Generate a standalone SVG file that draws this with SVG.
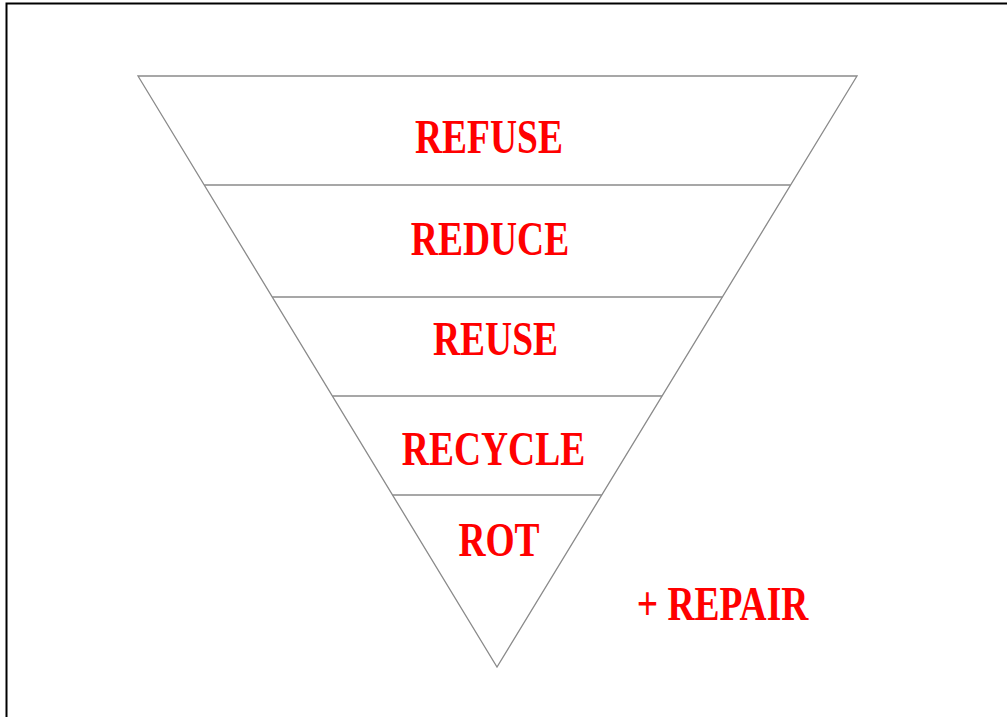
<svg xmlns="http://www.w3.org/2000/svg" width="1007" height="717" viewBox="0 0 1007 717">
<style>
.ln{stroke:#8a8a8a;stroke-width:1.3;fill:none}
.lb{font-family:"Liberation Serif","Times New Roman",serif;font-weight:bold;font-size:37.5px;fill:#ff0000;text-anchor:middle}
</style>
<rect width="1007" height="717" fill="#ffffff"/>
<rect x="6.5" y="3.5" width="1010" height="730" fill="none" stroke="#000" stroke-width="2"/>
<g id="connectors">
<polygon class="ln" points="138,76 857,76 497,667"/>
<line class="ln" x1="204.2" y1="185" x2="790.6" y2="185"/>
<line class="ln" x1="272.2" y1="297" x2="722.4" y2="297"/>
<line class="ln" x1="332.4" y1="396" x2="662.1" y2="396"/>
<line class="ln" x1="392.5" y1="495" x2="601.8" y2="495"/>
</g>
<g id="refuse"><text class="lb" transform="translate(489,153) scale(1,1.3)">REFUSE</text></g>
<g id="reduce"><text class="lb" transform="translate(490,255) scale(1,1.3)">REDUCE</text></g>
<g id="reuse"><text class="lb" transform="translate(495.5,355) scale(1,1.3)">REUSE</text></g>
<g id="recycle"><text class="lb" transform="translate(493.5,465) scale(1,1.3)">RECYCLE</text></g>
<g id="rot"><text class="lb" transform="translate(499,556) scale(1,1.3)">ROT</text></g>
<g id="repair"><text class="lb" transform="translate(722.5,620) scale(1,1.3)">+ REPAIR</text></g>
</svg>
